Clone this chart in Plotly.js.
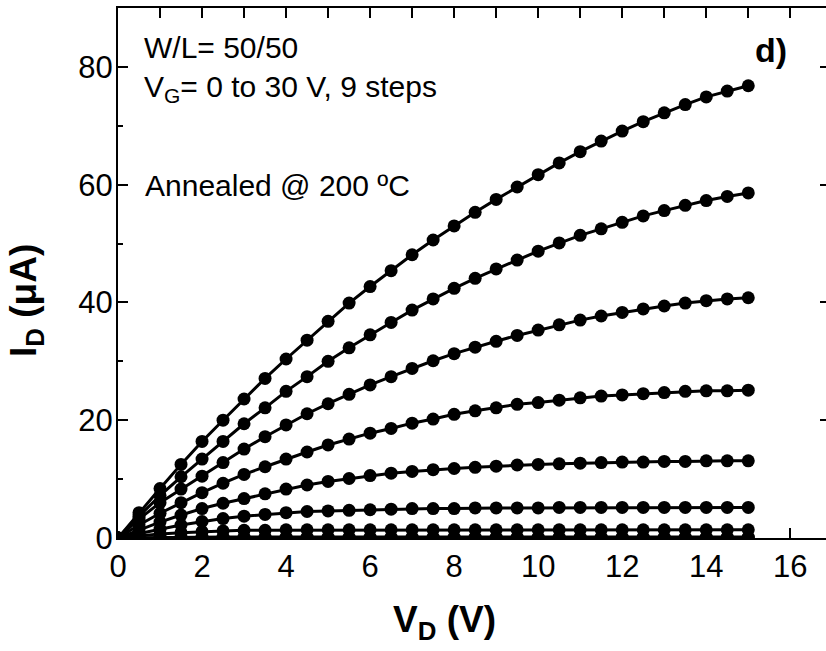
<!DOCTYPE html>
<html>
<head>
<meta charset="utf-8">
<script src="https://cdn.plot.ly/plotly-3.0.1.min.js"></script>
<style>html,body{margin:0;padding:0;background:#fff;}#chart{width:826px;height:651px;}</style>
</head>
<body>
<div id="chart"></div>
<script>
// Drain voltage V_D (V)
const vd = [0,0.5,1,1.5,2,2.5,3,3.5,4,4.5,5,5.5,6,6.5,7,7.5,8,8.5,9,9.5,10,10.5,11,11.5,12,12.5,13,13.5,14,14.5,15];
// Drain current I_D (uA) for each gate voltage step
const vg30    = [0,4.3,8.4,12.5,16.4,20.0,23.6,27.1,30.4,33.6,36.8,39.9,42.7,45.4,48.1,50.6,53.0,55.3,57.5,59.6,61.7,63.7,65.6,67.4,69.1,70.7,72.2,73.6,74.9,75.9,76.8];
const vg26_25 = [0,3.7,7.2,10.4,13.4,16.4,19.4,22.1,24.9,27.4,30.0,32.3,34.5,36.6,38.7,40.6,42.4,44.1,45.7,47.2,48.7,50.1,51.4,52.5,53.6,54.7,55.6,56.5,57.3,58.0,58.6];
const vg22_5  = [0,3.2,6.0,8.3,10.5,12.8,15.1,17.2,19.2,21.1,22.8,24.4,26.0,27.4,28.8,30.1,31.3,32.4,33.4,34.4,35.3,36.2,37.0,37.7,38.3,38.9,39.4,39.9,40.3,40.6,40.8];
const vg18_75 = [0,2.2,4.2,6.0,7.7,9.3,10.8,12.1,13.4,14.6,15.8,16.8,17.8,18.6,19.5,20.2,21.0,21.6,22.1,22.7,23.0,23.4,23.8,24.1,24.3,24.5,24.7,24.9,25.0,25.0,25.1];
const vg15    = [0,1.4,2.7,3.9,5.0,5.9,6.7,7.5,8.3,9.0,9.6,10.1,10.6,11.0,11.3,11.6,11.8,12.0,12.2,12.4,12.5,12.6,12.7,12.8,12.9,12.9,13.0,13.0,13.1,13.1,13.1];
const vg11_25 = [0,0.8,1.5,2.2,2.8,3.3,3.7,4.0,4.3,4.5,4.6,4.7,4.8,4.9,5.0,5.0,5.0,5.1,5.1,5.1,5.1,5.2,5.2,5.2,5.2,5.2,5.2,5.2,5.2,5.2,5.2];
const vg7_5   = [0,0.4,0.7,0.9,1.1,1.2,1.3,1.3,1.4,1.4,1.4,1.4,1.4,1.4,1.4,1.4,1.4,1.4,1.4,1.4,1.4,1.4,1.4,1.4,1.4,1.4,1.4,1.4,1.4,1.4,1.4];
const vg3_75  = [0,0.05,0.1,0.12,0.14,0.15,0.15,0.15,0.15,0.15,0.15,0.15,0.15,0.15,0.15,0.15,0.15,0.15,0.15,0.15,0.15,0.15,0.15,0.15,0.15,0.15,0.15,0.15,0.15,0.15,0.15];
const vg0     = [0,0,0,0,0,0,0,0,0,0,0,0,0,0,0,0,0,0,0,0,0,0,0,0,0,0,0,0,0,0,0];

const series = [vg0, vg3_75, vg7_5, vg11_25, vg15, vg18_75, vg22_5, vg26_25, vg30];
const FONT = 'Liberation Sans, Arial, sans-serif';

const traces = series.map(s => ({
  x: vd, y: s, type: 'scatter', mode: 'lines+markers',
  line: {color: '#000', width: 3},
  marker: {color: '#000', size: 13, symbol: 'circle'},
  showlegend: false, hoverinfo: 'skip'
}));
// dummy trace to carry the right-side tick axis
traces.push({x: [0], y: [0], yaxis: 'y2', mode: 'markers', marker: {opacity: 0}, showlegend: false, hoverinfo: 'skip'});

const layout = {
  width: 826, height: 651,
  margin: {l: 118, r: 0, t: 8, b: 113},
  paper_bgcolor: '#fff', plot_bgcolor: '#fff',
  font: {family: FONT, color: '#000'},
  xaxis: {
    range: [0, 16.85], tickmode: 'linear', tick0: 0, dtick: 2,
    ticks: 'inside', ticklen: 10, tickwidth: 2, tickcolor: '#000',
    minor: {dtick: 1, ticks: 'inside', ticklen: 5, tickwidth: 2, tickcolor: '#000', showgrid: false},
    showline: true, linewidth: 2, linecolor: '#000', mirror: 'allticks',
    showgrid: false, zeroline: false,
    tickfont: {size: 31, family: FONT, color: '#000'}
  },
  yaxis: {
    range: [0, 90], tickmode: 'linear', tick0: 0, dtick: 20,
    ticks: 'inside', ticklen: 10, tickwidth: 2, tickcolor: '#000',
    minor: {dtick: 10, ticks: 'inside', ticklen: 5, tickwidth: 2, tickcolor: '#000', showgrid: false},
    showline: true, linewidth: 2, linecolor: '#000', mirror: false,
    showgrid: false, zeroline: false, ticklabelstandoff: -3,
    tickfont: {size: 31, family: FONT, color: '#000'}
  },
  yaxis2: {
    overlaying: 'y', side: 'right', range: [0, 90], tickmode: 'linear', tick0: 0, dtick: 20,
    ticks: 'inside', ticklen: 6, tickwidth: 2, tickcolor: '#000',
    showticklabels: false, showline: false, showgrid: false, zeroline: false
  },
  annotations: [
    {text: '<b>V<sub>D</sub> (V)</b>', x: 0.461, y: -0.158, xref: 'paper', yref: 'paper', xanchor: 'center', yanchor: 'middle', showarrow: false, font: {size: 37, family: FONT, color: '#000'}},
    {text: '<b>I<sub>D</sub> (μA)</b>', x: -0.13, y: 0.449, xref: 'paper', yref: 'paper', xanchor: 'center', yanchor: 'middle', textangle: -90, showarrow: false, font: {size: 37, family: FONT, color: '#000'}},
    {text: 'W/L= 50/50', x: 0.57, y: 83.3, xref: 'x', yref: 'y', xanchor: 'left', yanchor: 'middle', showarrow: false, font: {size: 30, family: FONT, color: '#000'}},
    {text: 'V<sub>G</sub>= 0 to 30 V, 9 steps', x: 0.57, y: 79.8, xref: 'x', yref: 'y', xanchor: 'left', yanchor: 'top', showarrow: false, font: {size: 30, family: FONT, color: '#000'}},
    {text: 'Annealed @ 200 ºC', x: 0.6, y: 59.8, xref: 'x', yref: 'y', xanchor: 'left', yanchor: 'middle', showarrow: false, font: {size: 30, family: FONT, color: '#000'}},
    {text: '<b>d)</b>', x: 15.55, y: 82.8, xref: 'x', yref: 'y', xanchor: 'center', yanchor: 'middle', showarrow: false, font: {size: 34, family: FONT, color: '#000'}}
  ]
};

Plotly.newPlot('chart', traces, layout, {staticPlot: true, displayModeBar: false});
</script>
</body>
</html>
